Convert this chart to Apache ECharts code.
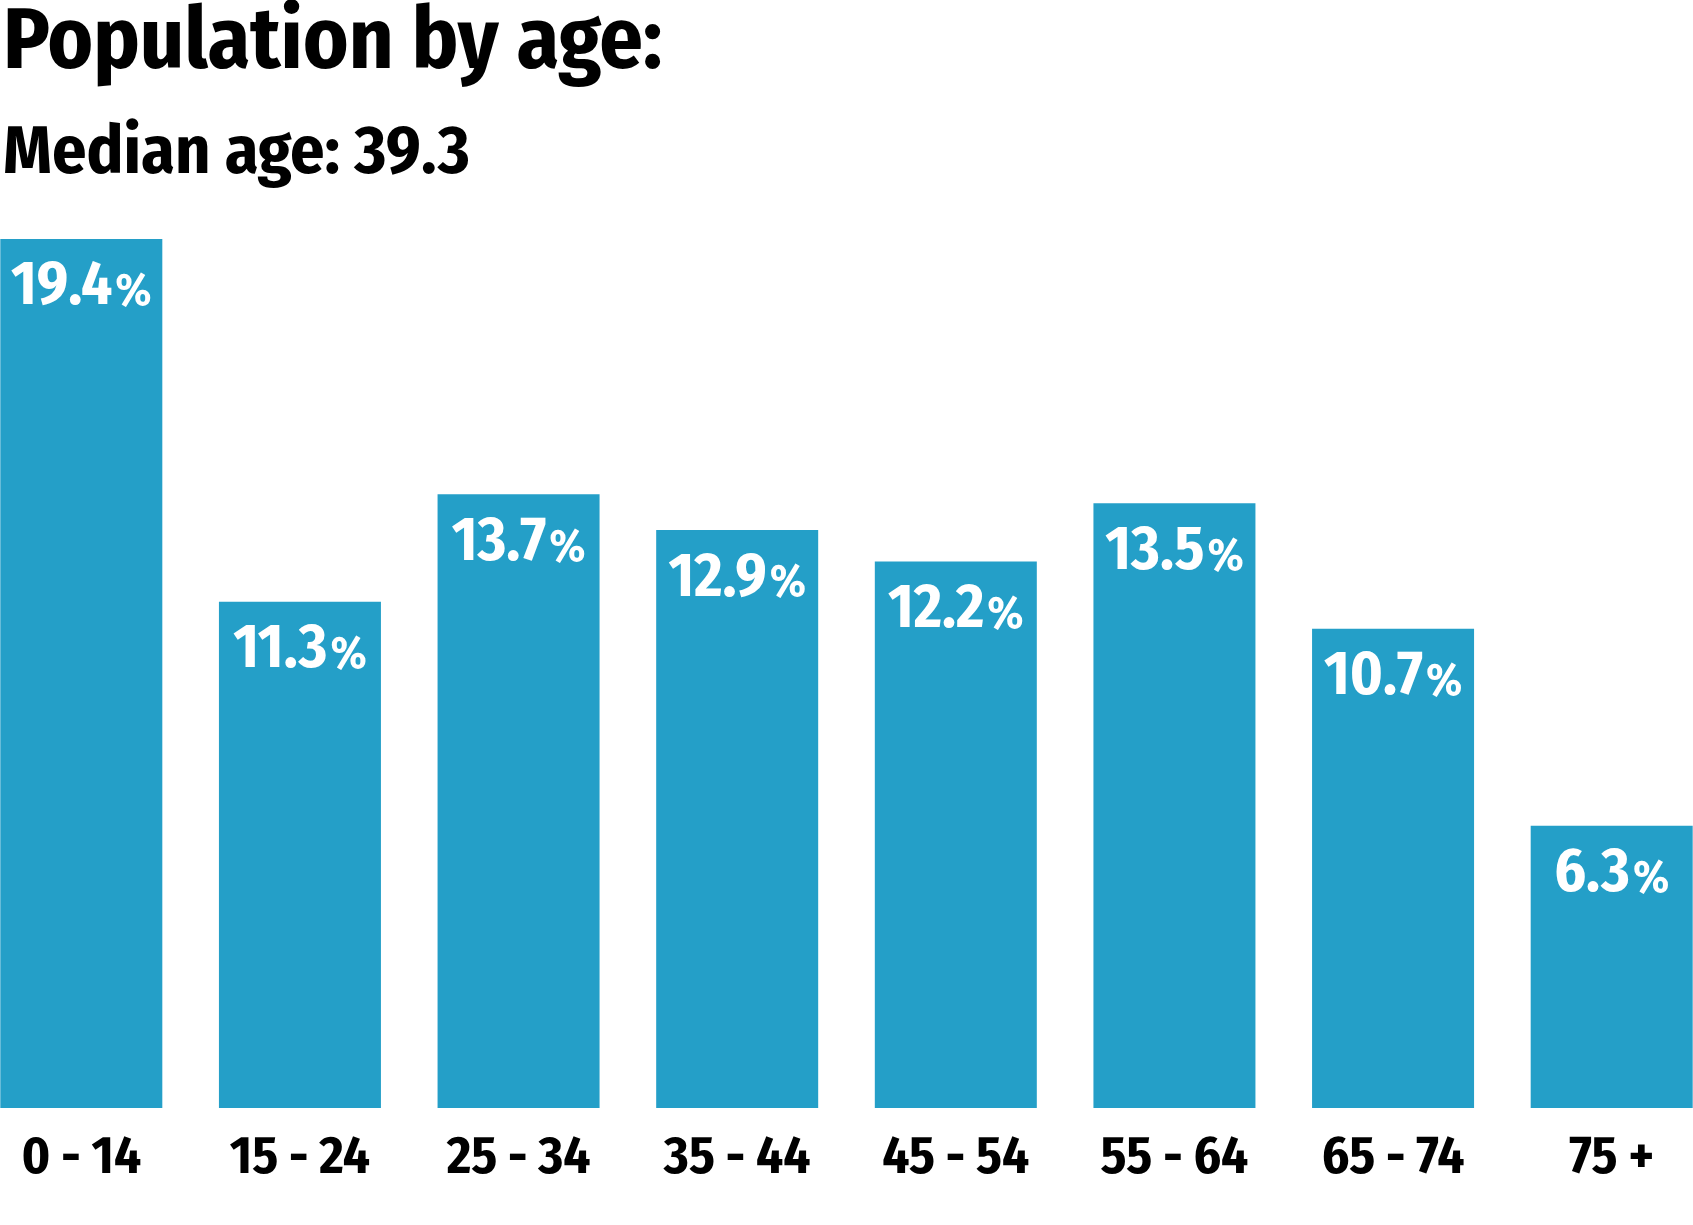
<!DOCTYPE html>
<html>
<head>
<meta charset="utf-8">
<script src="https://cdn.jsdelivr.net/npm/echarts@6/dist/echarts.min.js"></script>
<style>
  html, body { margin: 0; padding: 0; background: #fff; }
  #chart { width: 1693px; height: 1225px; }
</style>
</head>
<body>
<div id="chart"></div>
<script>
// 数据
var ageGroups = ['0\u2009-\u200914', '15\u2009-\u200924', '25\u2009-\u200934', '35\u2009-\u200944', '45\u2009-\u200954', '55\u2009-\u200964', '65\u2009-\u200974', '75 +']
var shares = [19.4, 11.3, 13.7, 12.9, 12.2, 13.5, 10.7, 6.3]
var medianAge = 39.3

var font = "'Fira Sans Condensed', 'Roboto Condensed', 'Noto Sans', sans-serif"

var myChart = echarts.init(document.getElementById('chart'))

var option = {
  backgroundColor: '#ffffff',
  animation: false,
  title: [
    {
      text: 'Population by age:',
      left: 3,
      top: 1,
      padding: 0,
      textStyle: { fontFamily: font, fontSize: 86, lineHeight: 86, fontWeight: 'bold', color: '#000' }
    },
    {
      text: 'Median age: ' + medianAge,
      left: 3,
      top: 120,
      padding: 0,
      textStyle: { fontFamily: font, fontSize: 68, lineHeight: 68, fontWeight: 'bold', color: '#000' }
    }
  ],
  grid: { left: -28, right: -28, top: 212, bottom: 117, containLabel: false, outerBoundsMode: 'none' },
  xAxis: {
    type: 'category',
    data: ageGroups,
    axisLine: { show: false },
    axisTick: { show: false },
    axisLabel: {
      interval: 0,
      margin: 24,
      fontFamily: font,
      fontSize: 53,
      lineHeight: 53,
      fontWeight: 'bold',
      color: '#000'
    }
  },
  yAxis: {
    type: 'value',
    min: 0,
    max: 20,
    show: false,
    splitLine: { show: false }
  },
  series: [
    {
      type: 'bar',
      data: shares,
      barCategoryGap: '25.9%',
      itemStyle: { color: '#249fc8' },
      label: {
        show: true,
        position: 'insideTop',
        distance: 18,
        formatter: function (p) {
          return '{n|' + p.value + '}{p|%}'
        },
        rich: {
          n: { fontFamily: font, fontSize: 61, lineHeight: 61, fontWeight: 'bold', color: '#fff' },
          p: { fontFamily: font, fontSize: 46, lineHeight: 61, fontWeight: 'bold', color: '#fff', padding: [10, 0, 0, 3] }
        }
      }
    }
  ]
}

myChart.setOption(option)
</script>
</body>
</html>
